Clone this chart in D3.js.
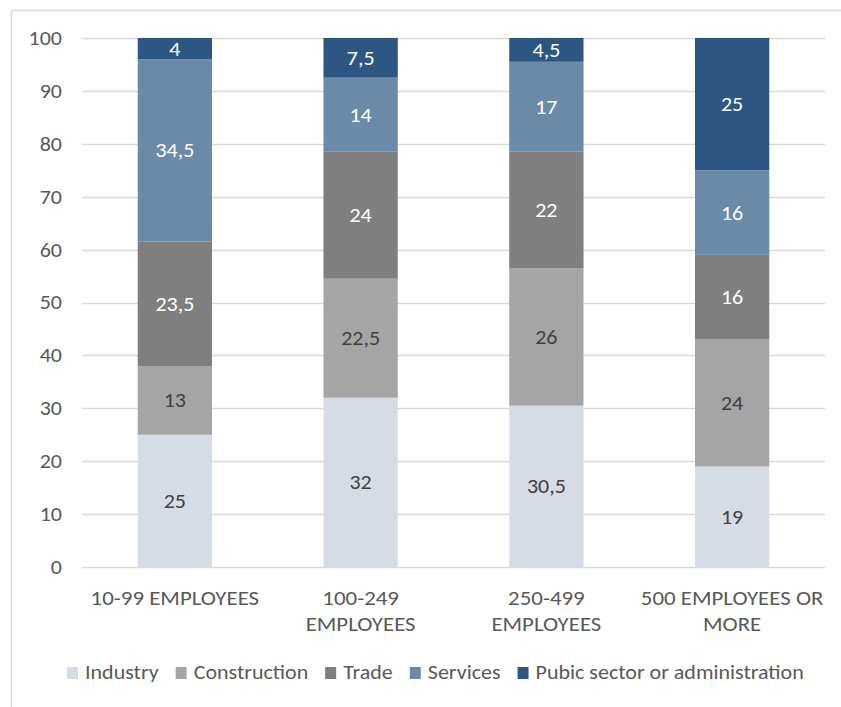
<!DOCTYPE html>
<html>
<head>
<meta charset="utf-8">
<script src="https://cdn.jsdelivr.net/npm/d3@7"></script>
<style>
  html, body { margin: 0; padding: 0; background: #fff; }
  svg { display: block; }
  text { font-family: Carlito, Calibri, Lato, "Open Sans", sans-serif; }
</style>
</head>
<body>
<svg id="chart" width="841" height="707"></svg>
<script>
// Company size groups (x axis)
const categories = ["10-99 EMPLOYEES", "100-249 EMPLOYEES", "250-499 EMPLOYEES", "500 EMPLOYEES OR MORE"];
// Label lines under each bar
const categoryLines = [["10-99 EMPLOYEES"], ["100-249", "EMPLOYEES"], ["250-499", "EMPLOYEES"], ["500 EMPLOYEES OR", "MORE"]];
// Sectors, stacked bottom to top
const sectors = ["Industry", "Construction", "Trade", "Services", "Pubic sector or administration"];
const industry     = [25, 32, 30.5, 19];
const construction = [13, 22.5, 26, 24];
const trade        = [23.5, 24, 22, 16];
const services     = [34.5, 14, 17, 16];
const publicSector = [4, 7.5, 4.5, 25];
const yTicks = [0, 10, 20, 30, 40, 50, 60, 70, 80, 90, 100];

const colors = ["#d6dce5", "#a5a5a5", "#7f7f7f", "#6a8aa8", "#2b5782"];
const labelColors = ["#404040", "#404040", "#ffffff", "#ffffff", "#ffffff"];

const FS = 20;      // base font size
const SX = 1.1;     // horizontal text stretch

const rows = categories.map((c, i) => ({
  cat: c,
  Industry: industry[i],
  Construction: construction[i],
  Trade: trade[i],
  Services: services[i],
  "Pubic sector or administration": publicSector[i]
}));

const svg = d3.select("#chart");

// Places a horizontally stretched text whose anchor sits at (px, py)
function stretchedText(parent, px, py, str, size) {
  return parent.append("text")
    .attr("transform", `translate(${px},${py}) scale(${SX},1)`)
    .attr("font-size", size || FS)
    .text(str);
}

// Outer frame
svg.append("line").attr("x1", 11).attr("x2", 841).attr("y1", 10.5).attr("y2", 10.5)
  .attr("stroke", "#d9d9d9").attr("stroke-width", 1.5);
svg.append("line").attr("x1", 11.5).attr("x2", 11.5).attr("y1", 10).attr("y2", 707)
  .attr("stroke", "#d9d9d9").attr("stroke-width", 1.5);

const plotLeft = 82, plotRight = 825, plotTop = 38, plotBottom = 567;

const x = d3.scaleBand().domain(categories).range([plotLeft, plotRight]).paddingInner(0.6).paddingOuter(0.3);
const y = d3.scaleLinear().domain([0, 100]).range([plotBottom, plotTop]);

// Gridlines
svg.append("g").selectAll("line").data(yTicks).join("line")
  .attr("x1", plotLeft).attr("x2", plotRight)
  .attr("y1", d => Math.round(y(d)) + 0.5).attr("y2", d => Math.round(y(d)) + 0.5)
  .attr("stroke", "#d9d9d9").attr("stroke-width", 1.3);

// Y axis labels
const yAxis = d3.axisLeft(y).tickValues(yTicks).tickSize(0).tickPadding(20 / SX);
const yg = svg.append("g").attr("transform", `translate(${plotLeft},0)`).call(yAxis);
yg.select(".domain").remove();
yg.selectAll("text")
  .attr("transform", `scale(${SX},1)`)
  .attr("font-size", FS).attr("fill", "#595959")
  .style("font-family", "Carlito, Calibri, Lato, 'Open Sans', sans-serif");

// Stacked bars
const stack = d3.stack().keys(sectors)(rows);
const layers = svg.append("g").selectAll("g").data(stack).join("g")
  .attr("fill", (d, i) => colors[i]);
layers.selectAll("rect").data(d => d).join("rect")
  .attr("x", d => x(d.data.cat))
  .attr("width", x.bandwidth())
  .attr("y", d => y(d[1]))
  .attr("height", d => y(d[0]) - y(d[1]));

// Segment value labels
const vl = svg.append("g");
stack.forEach((layer, li) => {
  layer.forEach(d => {
    stretchedText(vl, x(d.data.cat) + x.bandwidth() / 2, (y(d[0]) + y(d[1])) / 2,
        String(d[1] - d[0]).replace(".", ","))
      .attr("dy", "0.35em")
      .attr("text-anchor", "middle")
      .attr("fill", labelColors[li]);
  });
});

// Category labels
const xl = svg.append("g");
categories.forEach((c, i) => {
  categoryLines[i].forEach((line, j) => {
    stretchedText(xl, x(c) + x.bandwidth() / 2, 605 + j * 26, line, 20.8)
      .attr("text-anchor", "middle")
      .attr("fill", "#595959");
  });
});

// Legend
const legend = svg.append("g");
let lx = 67;
sectors.forEach((s, i) => {
  legend.append("rect").attr("x", lx).attr("y", 667).attr("width", 11).attr("height", 12).attr("fill", colors[i]);
  const t = stretchedText(legend, lx + 18, 679, s).attr("fill", "#595959");
  lx += 18 + t.node().getComputedTextLength() * SX + 17;
});
</script>
</body>
</html>
